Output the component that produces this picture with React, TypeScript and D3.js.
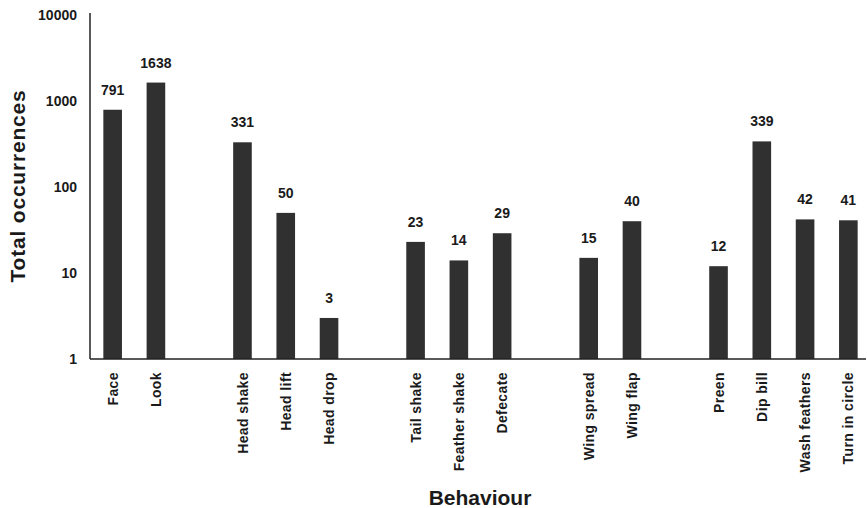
import React from "react";
import * as d3 from "d3";

// Behaviour categories, in display order; "" entries are spacer slots between groups
const slots: string[] = [
  "Face", "Look", "",
  "Head shake", "Head lift", "Head drop", "",
  "Tail shake", "Feather shake", "Defecate", "",
  "Wing spread", "Wing flap", "",
  "Preen", "Dip bill", "Wash feathers", "Turn in circle",
];
const behaviours: string[] = [
  "Face", "Look", "Head shake", "Head lift", "Head drop",
  "Tail shake", "Feather shake", "Defecate", "Wing spread", "Wing flap",
  "Preen", "Dip bill", "Wash feathers", "Turn in circle",
];
const occurrences: number[] = [791, 1638, 331, 50, 3, 23, 14, 29, 15, 40, 12, 339, 42, 41];
const yTicks: number[] = [1, 10, 100, 1000, 10000];

const W = 867;
const H = 508;
const FONT = "'Liberation Sans', Arial, Helvetica, sans-serif";

export default function App() {
  const slotKeys = slots.map((s, i) => (s === "" ? `gap${i}` : s));
  const x = d3.scaleBand<string>().domain(slotKeys).range([91, 870]).paddingInner(0.57).paddingOuter(0.285);
  const y = d3.scaleLog().domain([1, 10000]).range([359, 15]);
  const axisX = 90;
  const axisY = y(1);

  return (
    <svg width={W} height={H} style={{ position: "absolute", left: 0, top: 0, background: "#fff" }} fontFamily={FONT}>
      {/* bars */}
      {behaviours.map((b, i) => {
        const v = occurrences[i];
        const bx = x(b)!;
        const top = y(v);
        return (
          <g key={b}>
            <rect x={bx} y={top} width={x.bandwidth()} height={axisY - top} fill="#303030" />
            <text x={bx + x.bandwidth() / 2} y={top - 15} textAnchor="middle" fontSize={14} fontWeight="bold" fill="#1a1a1a">
              {v}
            </text>
            <text
              transform={`translate(${bx + x.bandwidth() / 2},${axisY + 13}) rotate(-90)`}
              textAnchor="end"
              dy="0.36em"
              fontSize={14}
              fontWeight="bold"
              letterSpacing={0.4}
              fill="#1a1a1a"
            >
              {b}
            </text>
          </g>
        );
      })}

      {/* axes */}
      <line x1={axisX} x2={axisX} y1={y(10000) - 2} y2={axisY} stroke="#222" strokeWidth={1.5} />
      <line x1={axisX} x2={866} y1={axisY} y2={axisY} stroke="#222" strokeWidth={1.5} />

      {yTicks.map((t) => (
        <text key={t} x={77} y={y(t)} dy="0.36em" textAnchor="end" fontSize={14} fontWeight="bold" fill="#1a1a1a">
          {t}
        </text>
      ))}

      {/* axis titles */}
      <text transform={`translate(25,186) rotate(-90)`} textAnchor="middle" fontSize={21} fontWeight="bold" letterSpacing={0.8} fill="#1a1a1a">
        Total occurrences
      </text>
      <text x={480} y={505} textAnchor="middle" fontSize={21} fontWeight="bold" fill="#1a1a1a">
        Behaviour
      </text>
    </svg>
  );
}
